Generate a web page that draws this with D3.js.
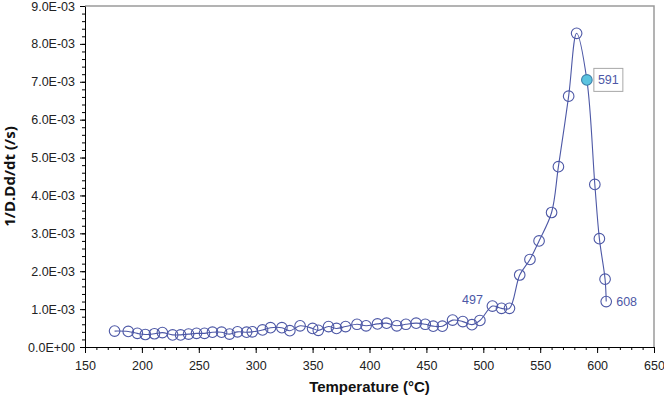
<!DOCTYPE html>
<html>
<head>
<meta charset="utf-8">
<script src="https://cdn.jsdelivr.net/npm/d3@7"></script>
<style>
  body { margin: 0; background: #fff; }
  svg { display: block; font-family: "Liberation Sans", Arial, sans-serif; }
</style>
</head>
<body>
<svg id="chart" width="664" height="404"></svg>
<script>
// temperature (°C) and 1/D.dD/dt (x1e-3 /s)
const temps = [176, 188, 196, 203, 211, 218, 227, 234, 241, 248,
               255, 262, 270, 277, 284, 292, 297, 306, 313, 323,
               330, 339, 350, 355, 364, 371, 379, 389, 397, 407,
               415, 424, 432, 441, 449, 456, 464, 473, 482, 490,
               497, 508, 516, 523, 532, 541, 549, 560, 566, 575,
               582, 591, 598, 602, 607, 608];
const rates = [0.42, 0.41, 0.36, 0.33, 0.35, 0.38, 0.32, 0.32, 0.34, 0.36,
               0.36, 0.39, 0.39, 0.34, 0.40, 0.39, 0.40, 0.45, 0.51, 0.51,
               0.43, 0.56, 0.49, 0.44, 0.54, 0.49, 0.54, 0.60, 0.56, 0.61,
               0.63, 0.56, 0.60, 0.63, 0.60, 0.55, 0.55, 0.71, 0.67, 0.59,
               0.70, 1.08, 1.02, 1.02, 1.90, 2.31, 2.80, 3.55, 4.76, 6.62,
               8.28, 7.05, 4.29, 2.86, 1.79, 1.20];
const xTicks = [150, 200, 250, 300, 350, 400, 450, 500, 550, 600, 650];
const yTicks = [0, 1, 2, 3, 4, 5, 6, 7, 8, 9];
const labelled = [497, 591, 608];
const highlight = 591;

const data = temps.map((t, i) => ({t: t, v: rates[i] * 1e-3}));

const padL = 85, padR = 654, padT = 6, padB = 347;
const blue = "#4d58a6";

const svg = d3.select("#chart");
const x = d3.scaleLinear().domain([150, 650]).range([padL, padR]);
const y = d3.scaleLinear().domain([0, 9e-3]).range([padB, padT]);

function sci(v) {
  if (v === 0) return "0.0E+00";
  let e = Math.floor(Math.log10(v) + 1e-9);
  let m = v / Math.pow(10, e);
  let s = e < 0 ? "-" : "+";
  return m.toFixed(1) + "E" + s + String(Math.abs(e)).padStart(2, "0");
}

// frame top/right
svg.append("path")
  .attr("d", `M${padL},${padT}H${padR}V${padB}`)
  .attr("fill", "none").attr("stroke", "#9a9a9a").attr("stroke-width", 1.5);

// x axis
const xMinor = d3.axisBottom(x).tickValues(d3.range(150, 651, 10)).tickSize(3).tickFormat("");
svg.append("g").attr("transform", `translate(0,${padB})`).call(xMinor)
  .call(g => g.select(".domain").remove());
const xAxis = d3.axisBottom(x).tickValues(xTicks).tickSize(6).tickPadding(8).tickSizeOuter(0);
svg.append("g").attr("transform", `translate(0,${padB})`).call(xAxis)
  .call(g => g.selectAll("text").attr("font-size", 12.5).attr("fill", "#222"));

// y axis
const yMinor = d3.axisLeft(y).tickValues(d3.range(0, 9.01, 0.2).map(d => d * 1e-3)).tickSize(3).tickFormat("");
svg.append("g").attr("transform", `translate(${padL},0)`).call(yMinor)
  .call(g => g.select(".domain").remove());
const yAxis = d3.axisLeft(y).tickValues(yTicks.map(d => d * 1e-3)).tickSize(5).tickPadding(5)
  .tickSizeOuter(0).tickFormat(sci);
svg.append("g").attr("transform", `translate(${padL},0)`).call(yAxis)
  .call(g => g.selectAll("text").attr("font-size", 12.5).attr("fill", "#222"));

// titles
svg.append("text").attr("x", (padL + padR) / 2).attr("y", 392)
  .attr("text-anchor", "middle").attr("font-weight", "bold").attr("font-size", 15)
  .attr("fill", "#111").text("Temperature (°C)");
svg.append("text").attr("transform", `translate(15,${(padT + padB) / 2}) rotate(-90)`)
  .attr("text-anchor", "middle").attr("font-weight", "bold").attr("font-size", 15)
  .attr("font-family", "'Open Sans', sans-serif")
  .attr("fill", "#111").text("1/D.Dd/dt (/s)");

// line
const line = d3.line().x(d => x(d.t)).y(d => y(d.v)).curve(d3.curveCatmullRom.alpha(0.5));
svg.append("path").datum(data).attr("d", line)
  .attr("fill", "none").attr("stroke", blue).attr("stroke-width", 1.1);

// markers
svg.selectAll("circle.pt").data(data).join("circle")
  .attr("class", "pt")
  .attr("cx", d => x(d.t)).attr("cy", d => y(d.v)).attr("r", 5.3)
  .attr("fill", d => d.t === highlight ? "#5bc4e0" : "none")
  .attr("stroke", d => d.t === highlight ? "#3d7fa8" : blue)
  .attr("stroke-width", 1.1);

// data labels
const lab = data.filter(d => labelled.includes(d.t));
lab.forEach(d => {
  let px = x(d.t), py = y(d.v);
  if (d.t === 497) {
    svg.append("text").attr("x", px + 3).attr("y", py - 16).attr("text-anchor", "end")
      .attr("font-size", 12.5).attr("fill", blue).text(d.t);
  } else if (d.t === 608) {
    svg.append("text").attr("x", px + 10).attr("y", py + 4.5)
      .attr("font-size", 12.5).attr("fill", blue).text(d.t);
  } else {
    svg.append("rect").attr("x", px + 7).attr("y", py - 11.5).attr("width", 29).attr("height", 23)
      .attr("fill", "#fff").attr("stroke", "#a8a8a8").attr("stroke-width", 1);
    svg.append("text").attr("x", px + 21.5).attr("y", py + 4.5).attr("text-anchor", "middle")
      .attr("font-size", 12.5).attr("fill", blue).text(d.t);
  }
});
</script>
</body>
</html>
